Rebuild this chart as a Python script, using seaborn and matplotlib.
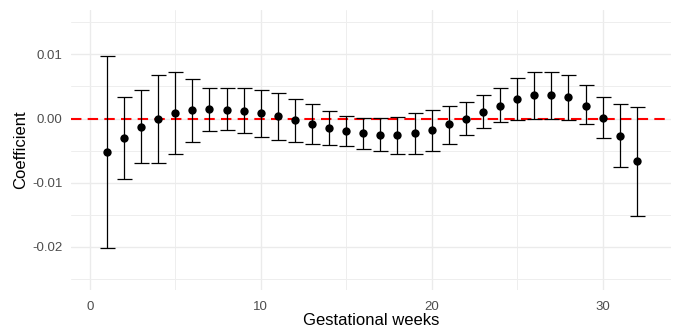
import numpy as np
import pandas as pd
import seaborn as sns
import matplotlib.pyplot as plt
from matplotlib.ticker import MultipleLocator

# Коэффициенты по неделям беременности
weeks = list(range(1, 33))
coef = [-0.0052, -0.0030, -0.0013, 0.0000, 0.0008, 0.0014, 0.0015, 0.0014,
        0.0012, 0.0008, 0.0004, -0.0002, -0.0009, -0.0014, -0.0020, -0.0023,
        -0.0025, -0.0025, -0.0023, -0.0018, -0.0009, 0.0000, 0.0010, 0.0020,
        0.0030, 0.0037, 0.0037, 0.0033, 0.0020, 0.0001, -0.0027, -0.0066]
ci_low = [-0.0201, -0.0094, -0.0070, -0.0069, -0.0055, -0.0036, -0.0020, -0.0018,
          -0.0023, -0.0028, -0.0034, -0.0037, -0.0039, -0.0041, -0.0042, -0.0048,
          -0.0051, -0.0055, -0.0055, -0.0050, -0.0039, -0.0026, -0.0014, -0.0006,
          -0.0002, 0.0000, 0.0000, -0.0002, -0.0009, -0.0030, -0.0076, -0.0152]
ci_high = [0.0098, 0.0033, 0.0044, 0.0068, 0.0072, 0.0061, 0.0048, 0.0047,
           0.0047, 0.0045, 0.0039, 0.0031, 0.0022, 0.0012, 0.0004, 0.0001,
           0.0001, 0.0003, 0.0008, 0.0014, 0.0019, 0.0025, 0.0036, 0.0048,
           0.0063, 0.0072, 0.0073, 0.0068, 0.0052, 0.0033, 0.0023, 0.0018]

df = pd.DataFrame({'week': weeks, 'coef': coef, 'low': ci_low, 'high': ci_high})

sns.set_theme(style='whitegrid')
plt.rcParams['font.family'] = ['Liberation Sans', 'DejaVu Sans']

fig = plt.figure(figsize=(6.78, 3.33), dpi=100)
ax = fig.add_axes([71 / 678, 43 / 333, 600 / 678, 280 / 333])

ax.axhline(0, color='red', linestyle=(0, (5, 3)), linewidth=1.5, zorder=2)
ax.errorbar(df['week'], df['coef'],
            yerr=[df['coef'] - df['low'], df['high'] - df['coef']],
            fmt='none', ecolor='black', elinewidth=0.9, capsize=5.4,
            capthick=0.9, zorder=3)
sns.scatterplot(data=df, x='week', y='coef', color='black', s=36,
                edgecolor='black', linewidth=0, ax=ax, zorder=4)

ax.set_xlim(-1.1, 34)
ax.set_ylim(-0.0267, 0.0169)
ax.xaxis.set_major_locator(MultipleLocator(10))
ax.xaxis.set_minor_locator(MultipleLocator(5))
ax.yaxis.set_major_locator(MultipleLocator(0.01))
ax.yaxis.set_minor_locator(MultipleLocator(0.005))
ax.yaxis.set_major_formatter(plt.FuncFormatter(lambda v, p: f'{v:.2f}'))

ax.grid(which='major', color='#EBEBEB', linewidth=1.0)
ax.grid(which='minor', color='#EEEEEE', linewidth=0.7)
for s in ax.spines.values():
    s.set_visible(False)
ax.tick_params(which='both', length=0, labelsize=9.5, labelcolor='#4D4D4D')
ax.tick_params(axis='x', pad=8)
ax.tick_params(axis='y', pad=6)

ax.set_xlabel('Gestational weeks', fontsize=12, color='black', labelpad=0)
ax.set_ylabel('Coefficient', fontsize=12, color='black', labelpad=3)

fig.savefig('out.png', dpi=100)
